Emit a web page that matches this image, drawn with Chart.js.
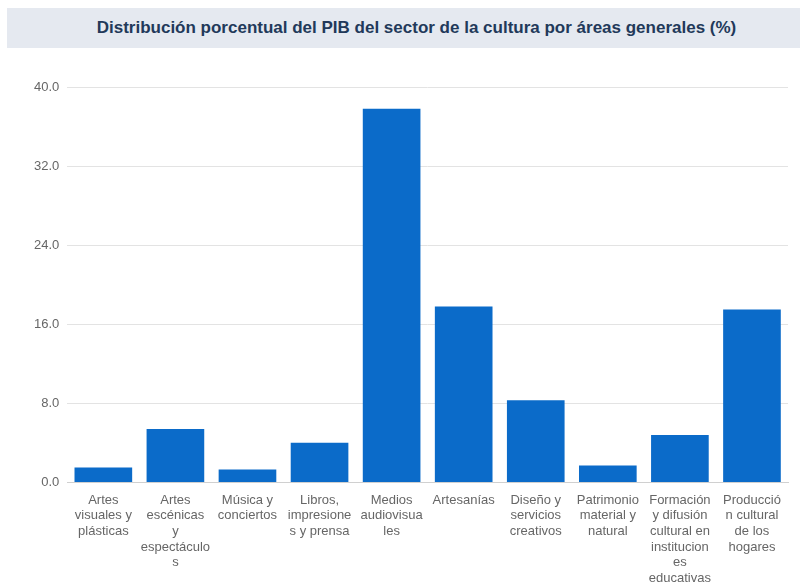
<!DOCTYPE html>
<html>
<head>
<meta charset="utf-8">
<script src="https://cdn.jsdelivr.net/npm/chart.js@4/dist/chart.umd.min.js"></script>
<style>
    body { margin: 0; background: #ffffff; }
    #wrap { position: relative; width: 806px; height: 584px; }
    #titulo {
        position: absolute; left: 7px; top: 8px; width: 793px; height: 40px;
        background: #e5e9f0; color: #22395a;
        font: bold 17px "Liberation Sans", Arial, sans-serif;
        display: flex; align-items: center; justify-content: center;
        box-sizing: border-box; padding-left: 26px;
    }
    #grafico { position: absolute; left: 0; top: 0; }
</style>
</head>
<body>
<div id="wrap">
    <canvas id="grafico" width="806" height="584"></canvas>
    <div id="titulo">Distribución porcentual del PIB del sector de la cultura por áreas generales (%)</div>
</div>
<script>
// Categorías (con los saltos de línea del original).
const AREAS = [
    ['Artes', 'visuales y', 'plásticas'],
    ['Artes', 'escénicas', 'y', 'espectáculo', 's'],
    ['Música y', 'conciertos'],
    ['Libros,', 'impresione', 's y prensa'],
    ['Medios', 'audiovisua', 'les'],
    ['Artesanías'],
    ['Diseño y', 'servicios', 'creativos'],
    ['Patrimonio', 'material y', 'natural'],
    ['Formación', 'y difusión', 'cultural en', 'institucion', 'es', 'educativas'],
    ['Producció', 'n cultural', 'de los', 'hogares']
];

// Porcentaje del PIB cultural por área.
const PORCENTAJES = [1.5, 5.4, 1.3, 4.0, 37.8, 17.8, 8.3, 1.7, 4.8, 17.5];

// Marcas del eje Y.
const EJE_Y_MAX = 40;
const EJE_Y_PASO = 8;

const FUENTE = '"Liberation Sans", Arial, sans-serif';

new Chart(document.getElementById('grafico'), {
    type: 'bar',
    data: {
        labels: AREAS,
        datasets: [{
            data: PORCENTAJES,
            backgroundColor: '#0b6bc9',
            categoryPercentage: 0.8,
            barPercentage: 1.0
        }]
    },
    options: {
        responsive: false,
        animation: false,
        layout: { padding: { top: 87, left: 26, right: 18, bottom: -4 } },
        plugins: {
            legend: { display: false },
            tooltip: { enabled: false }
        },
        scales: {
            x: {
                grid: { display: false },
                border: { color: '#d0d0d0' },
                ticks: {
                    color: '#666666',
                    maxRotation: 0,
                    autoSkip: false,
                    padding: 2,
                    font: { family: FUENTE, size: 13, lineHeight: 1.2 }
                }
            },
            y: {
                min: 0,
                max: EJE_Y_MAX,
                border: { display: false },
                grid: { color: '#e3e3e3', drawTicks: false },
                ticks: {
                    stepSize: EJE_Y_PASO,
                    padding: 8,
                    color: '#666666',
                    font: { family: FUENTE, size: 13 },
                    callback: (v) => v.toFixed(1)
                }
            }
        }
    }
});
</script>
</body>
</html>
